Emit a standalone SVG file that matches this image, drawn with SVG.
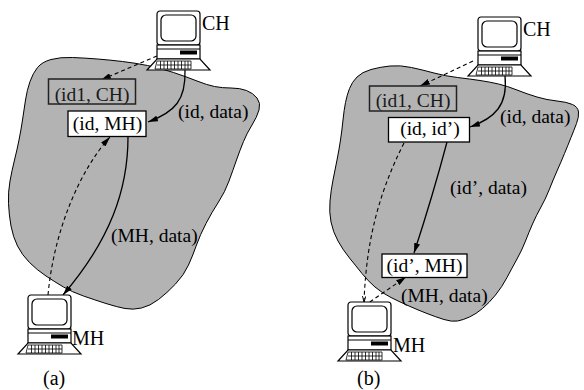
<svg xmlns="http://www.w3.org/2000/svg" xmlns:xlink="http://www.w3.org/1999/xlink" width="584" height="390" viewBox="0 0 584 390">
<style>
text{font-family:"Liberation Serif","Times New Roman",serif;font-size:19.5px;fill:#000}
.big{font-size:20px}
.blob{fill:#b3b3b3;stroke:#000;stroke-width:1}
.gbox{fill:#b3b3b3;stroke:#222;stroke-width:1.5}
.wbox{fill:#fff;stroke:#000;stroke-width:1.3}
.gt{fill:#1a1a1a}
.s{fill:none;stroke:#000;stroke-width:1.3;marker-end:url(#ah)}
.d{fill:none;stroke:#000;stroke-width:1.1;stroke-dasharray:4 3;marker-end:url(#ah)}
.pl{fill:#fff;stroke:#000;stroke-width:1.2}
</style>
<defs>
<marker id="ah" viewBox="0 0 10 6" refX="10" refY="3" markerWidth="10" markerHeight="6" orient="auto" markerUnits="userSpaceOnUse">
<path d="M0,0 L10,3 L0,6 z" fill="#000" stroke="none"/>
</marker>
<marker id="sm" viewBox="0 0 10 6" refX="10" refY="3" markerWidth="6" markerHeight="4" orient="auto" markerUnits="userSpaceOnUse">
<path d="M0,0 L10,3 L0,6" fill="none" stroke="#000" stroke-width="1.5"/>
</marker>
<g id="pc">
<rect class="pl" x="0" y="0" width="43" height="34" rx="3"/>
<rect class="pl" x="4" y="4" width="35" height="26" rx="5"/>
<rect class="pl" x="0" y="34" width="43" height="14"/>
<line x1="0" y1="38" x2="43" y2="38" stroke="#000" stroke-width="1"/>
<rect x="23" y="39.5" width="17" height="4" fill="#000"/>
<polygon class="pl" points="0,48 43,48 53,59 -10,59"/>
<path d="M0,50 H34 V58 H-2 Z M0,54 H34 M3.5,50 V58 M7,50 V58 M10.5,50 V58 M14,50 V58 M17.5,50 V58 M21,50 V58 M24.5,50 V58 M28,50 V58 M31,50 V58" fill="none" stroke="#000" stroke-width="0.8"/>
</g>
</defs>
<rect width="584" height="390" fill="#fff"/>

<g id="network-a">
<path class="blob" d="M37.5,67.5 Q42,62 51,59.5 Q60,57 72.5,57.5 Q85,58 97.5,59 Q110,60 122.5,61.5 Q135,63 147.5,65.5 Q160,68 173.5,72.5 Q187,77 197,81 Q207,85 214.5,86.5 Q222,88 231,88 Q240,88 246.5,90.5 Q253,93 257,98 Q261,103 259,110 Q257,117 252,125 Q247,133 243.5,141.5 Q240,150 236.5,160 Q233,170 229,181 Q225,192 218.5,202 Q212,212 206,223.5 Q200,235 196.5,245 Q193,255 188.5,265 Q184,275 175.5,284 Q167,293 158.5,299.5 Q150,306 141.5,308 Q133,310 125,308.5 Q117,307 106,303.5 Q95,300 83.5,296 Q72,292 63.5,287 Q55,282 46,276 Q37,270 29.5,262.5 Q22,255 17.5,246 Q13,237 11,226 Q9,215 8.5,203.5 Q8,192 10,181 Q12,170 14.5,160 Q17,150 19,140 Q21,130 22.5,120 Q24,110 25.5,100 Q27,90 30,81.5 Q33,73 37.5,67.5 Z"/>
</g>
<g id="network-b">
<path class="blob" d="M349.5,88.5 Q352,82 357,77 Q362,72 371,69.5 Q380,67 390,66 Q400,65 411.5,67.5 Q423,70 434,73 Q445,76 457.5,77.5 Q470,79 480,80.5 Q490,82 498.5,84 Q507,86 517,90 Q527,94 537,97 Q547,100 557,101 Q567,102 572.5,104.5 Q578,107 578.5,112 Q579,117 576.5,123.5 Q574,130 571,137.5 Q568,145 564.5,153.5 Q561,162 557,171 Q553,180 549.5,189 Q546,198 541,207 Q536,216 532.5,224 Q529,232 525.5,241 Q522,250 517,259 Q512,268 507,277.5 Q502,287 495.5,295 Q489,303 482.5,308.5 Q476,314 469.5,317 Q463,320 457.5,321 Q452,322 444,319.5 Q436,317 427,313.5 Q418,310 409,306 Q400,302 391,297.5 Q382,293 375,287 Q368,281 362,273.5 Q356,266 349.5,258 Q343,250 338,241 Q333,232 331,222 Q329,212 330,201 Q331,190 333,180 Q335,170 337,160 Q339,150 340.5,140 Q342,130 343,120 Q344,110 345.5,102.5 Q347,95 349.5,88.5 Z"/>
</g>

<g id="connectors">
<path class="d" d="M157,56 L101,80"/>
<path class="s" d="M185,70 C186,100 175,112 148,122"/>
<path class="s" d="M128,137 C128,190 110,240 63,295"/>
<path class="d" d="M48,295 C54,230 80,170 110,137"/>
<path class="d" d="M473,61 L420,86"/>
<path class="s" d="M505,76 C508,105 495,118 470,127"/>
<path class="s" d="M447,142 Q433,195 414,253"/>
<path class="d" d="M404,143 C375,200 366,250 364,302" style="marker-end:url(#sm)"/>
<path class="d" d="M364,306 L406,277"/>
<text x="178" y="118">(id, data)</text>
<text x="111" y="242">(MH, data)</text>
<text x="500" y="123">(id, data)</text>
<text x="450" y="194">(id’, data)</text>
<text x="401" y="302">(MH, data)</text>
</g>

<g id="CH-a">
<use xlink:href="#pc" href="#pc" transform="translate(157,11)"/>
<text class="big" x="202" y="30">CH</text>
</g>
<g id="MH-a">
<use xlink:href="#pc" href="#pc" transform="translate(28,295)"/>
<text class="big" x="72" y="345">MH</text>
</g>
<g id="CH-b">
<use xlink:href="#pc" href="#pc" transform="translate(478,17)"/>
<text class="big" x="523" y="36">CH</text>
</g>
<g id="MH-b">
<use xlink:href="#pc" href="#pc" transform="translate(348,302)"/>
<text class="big" x="393" y="352">MH</text>
</g>

<g id="box-id1CH-a">
<rect class="gbox" x="48.5" y="79" width="87" height="25"/>
<text class="gt" x="92" y="101" text-anchor="middle">(id1, CH)</text>
</g>
<g id="box-idMH-a">
<rect class="wbox" x="68" y="111" width="78" height="25.5"/>
<text x="107.5" y="130" text-anchor="middle">(id, MH)</text>
</g>
<g id="box-id1CH-b">
<rect class="gbox" x="369.5" y="86" width="87" height="25"/>
<text class="gt" x="413" y="107" text-anchor="middle">(id1, CH)</text>
</g>
<g id="box-idid-b">
<rect class="wbox" x="388.5" y="117.5" width="81" height="24.5"/>
<text x="430" y="135" text-anchor="middle">(id, id’)</text>
</g>
<g id="box-idMH-b">
<rect class="wbox" x="382" y="254" width="85" height="23.5"/>
<text x="424.5" y="272" text-anchor="middle">(id’, MH)</text>
</g>

<text class="big" x="43" y="385">(a)</text>
<text class="big" x="357" y="385">(b)</text>
</svg>
